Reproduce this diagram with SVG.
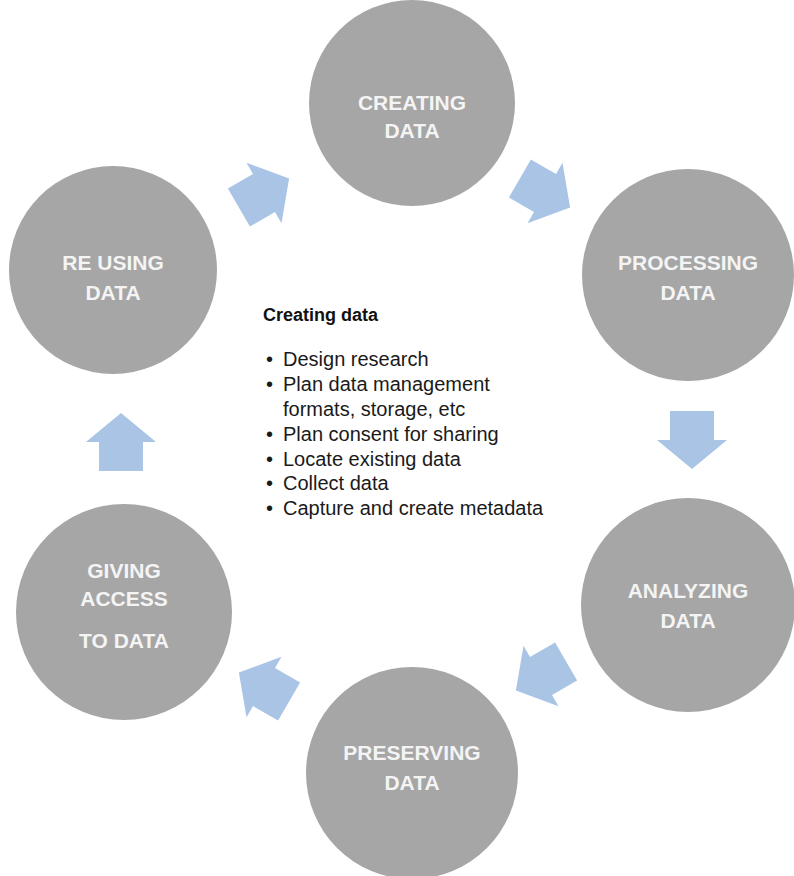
<svg xmlns="http://www.w3.org/2000/svg" width="794" height="876" viewBox="0 0 794 876">
<style>
.node{fill:#a6a6a6}
.lbl{font-family:"Liberation Sans",Arial,sans-serif;font-weight:bold;font-size:21px;fill:#f4f4f4;text-anchor:middle}
.arr{fill:#aac4e6}
.hd{font-family:"Liberation Sans",Arial,sans-serif;font-weight:bold;font-size:18px;fill:#111}
.bt{font-family:"Liberation Sans",Arial,sans-serif;font-size:20px;fill:#1a1a1a}
</style>
<defs>
<path id="blk" d="M-29,-22 L0,-22 L0,-35 L29,0 L0,35 L0,22 L-29,22 Z"/>
</defs>
<rect width="794" height="876" fill="#ffffff"/>
<g id="connectors">
<use href="#blk" class="arr" transform="translate(545,193) rotate(30)"/>
<use href="#blk" class="arr" transform="translate(692,440) rotate(90)"/>
<use href="#blk" class="arr" transform="translate(541,676) rotate(150)"/>
<use href="#blk" class="arr" transform="translate(264,687) rotate(210)"/>
<use href="#blk" class="arr" transform="translate(121,442) rotate(270)"/>
<use href="#blk" class="arr" transform="translate(264,193) rotate(330)"/>
</g>
<g id="creating">
<circle class="node" cx="412" cy="103" r="103"/>
<text class="lbl" x="412" y="110">CREATING</text>
<text class="lbl" x="412" y="138">DATA</text>
</g>
<g id="processing">
<circle class="node" cx="688" cy="275" r="106"/>
<text class="lbl" x="688" y="270">PROCESSING</text>
<text class="lbl" x="688" y="300">DATA</text>
</g>
<g id="analyzing">
<circle class="node" cx="688" cy="605" r="107"/>
<text class="lbl" x="688" y="598">ANALYZING</text>
<text class="lbl" x="688" y="628">DATA</text>
</g>
<g id="preserving">
<circle class="node" cx="412" cy="773" r="106"/>
<text class="lbl" x="412" y="760">PRESERVING</text>
<text class="lbl" x="412" y="790">DATA</text>
</g>
<g id="giving">
<circle class="node" cx="124" cy="612" r="108"/>
<text class="lbl" x="124" y="578">GIVING</text>
<text class="lbl" x="124" y="606">ACCESS</text>
<text class="lbl" x="124" y="648">TO DATA</text>
</g>
<g id="reusing">
<circle class="node" cx="113" cy="270" r="104"/>
<text class="lbl" x="113" y="270">RE USING</text>
<text class="lbl" x="113" y="300">DATA</text>
</g>
<g id="details">
<text class="hd" x="263" y="321">Creating data</text>
<g class="bt">
<text x="266" y="366">•</text><text x="283" y="366">Design research</text>
<text x="266" y="391">•</text><text x="283" y="391">Plan data management</text>
<text x="283" y="416">formats, storage, etc</text>
<text x="266" y="441">•</text><text x="283" y="441">Plan consent for sharing</text>
<text x="266" y="466">•</text><text x="283" y="466">Locate existing data</text>
<text x="266" y="490">•</text><text x="283" y="490">Collect data</text>
<text x="266" y="515">•</text><text x="283" y="515">Capture and create metadata</text>
</g>
</g>
</svg>
